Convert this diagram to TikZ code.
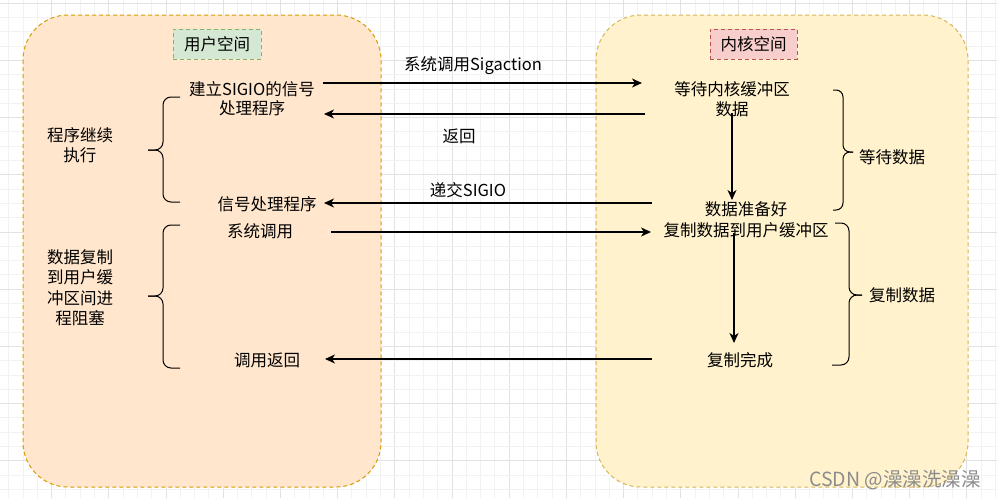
\documentclass[tikz,border=0pt]{standalone}
\usepackage{fontspec}
\setmainfont{Noto Sans CJK SC}
\usetikzlibrary{arrows.meta}
\definecolor{gridminor}{HTML}{F2F2F2}
\definecolor{gridmajor}{HTML}{E2E2E2}
\definecolor{userfill}{HTML}{FFE6CC}
\definecolor{userline}{HTML}{D79B00}
\definecolor{kernfill}{HTML}{FFF2CC}
\definecolor{kernline}{HTML}{D6B656}
\definecolor{greenfill}{HTML}{D5E8D4}
\definecolor{greenline}{HTML}{82B366}
\definecolor{redfill}{HTML}{F8CECC}
\definecolor{redline}{HTML}{B85450}
\definecolor{wmark}{HTML}{8C8C8C}
\tikzset{
  container/.style={dashed, dash pattern=on 4pt off 3pt, line width=1pt, rounded corners=45pt},
  titlebox/.style={draw, dashed, dash pattern=on 4pt off 3pt, line width=1pt, minimum width=88pt, minimum height=30pt, inner sep=0pt, font=\fontsize{16.5}{19.5}\selectfont},
  txt/.style={align=center, inner sep=0pt, font=\fontsize{16.5}{19.5}\selectfont, text=black},
  flow/.style={draw=black, line width=1.1pt, -{Stealth[length=10pt, width=9pt, inset=3pt]}},
  bracepath/.style={draw=black, line width=1pt, rounded corners=8pt},
}
\begin{document}
\begin{tikzpicture}[x=1pt, y=-1pt]
\useasboundingbox (0,0) rectangle (997,498);
\fill[white] (0,0) rectangle (997,498);
% grid
\foreach \i in {0,...,69} {
  \pgfmathtruncatemacro{\m}{mod(\i,4)}
  \ifnum\m=3 \draw[gridmajor, line width=0.8pt] ({8.6+14.3*\i},0) -- ({8.6+14.3*\i},498);
  \else \draw[gridminor, line width=0.8pt] ({8.6+14.3*\i},0) -- ({8.6+14.3*\i},498); \fi
}
\foreach \j in {0,...,34} {
  \pgfmathtruncatemacro{\m}{mod(\j,4)}
  \ifnum\m=0 \draw[gridmajor, line width=0.8pt] (0,{3.1+14.3*\j}) -- (997,{3.1+14.3*\j});
  \else \draw[gridminor, line width=0.8pt] (0,{3.1+14.3*\j}) -- (997,{3.1+14.3*\j}); \fi
}
% containers
\draw[container, draw=userline, fill=userfill] (23,15) rectangle (381,487);
\draw[container, draw=kernline, fill=kernfill] (596,15) rectangle (968,487);
% titles
\node[titlebox, draw=greenline, fill=greenfill] (ut) at (217,44) {用户空间};
\node[titlebox, draw=redline, fill=redfill, minimum width=87pt] (kt) at (753.5,44) {内核空间};
% user texts
\node[txt] (n1) at (252,98.5) {建立SIGIO的信号\\处理程序};
\node[txt] (n2) at (80,145) {程序继续\\执行};
\node[txt] (n3) at (267,204) {信号处理程序};
\node[txt] (n4) at (260,231) {系统调用};
\node[txt, font=\fontsize{16.5}{20.5}\selectfont] (n5) at (80,287.5) {数据复制\\到用户缓\\冲区间进\\程阻塞};
\node[txt] (n6) at (267,360) {调用返回};
% kernel texts
\node[txt] (k1) at (732,99) {等待内核缓冲区\\数据};
\node[txt, font=\fontsize{16.5}{21}\selectfont] (k2) at (746,219.5) {数据准备好\\复制数据到用户缓冲区};
\node[txt] (k3) at (740,360) {复制完成};
\node[txt] (w1) at (892,157) {等待数据};
\node[txt] (w2) at (902,295) {复制数据};
% arrow labels
\node[txt] (l1) at (473,66) {系统调用Sigaction};
\node[txt] (l2) at (459,136) {返回};
\node[txt] (l3) at (468,190) {递交SIGIO};
% arrow endpoints
\coordinate (a1s) at (323,83);  \coordinate (a1e) at (642,83);
\coordinate (a2s) at (645,114); \coordinate (a2e) at (324,114);
\coordinate (a3s) at (652,203); \coordinate (a3e) at (324,203);
\coordinate (a4s) at (331,232); \coordinate (a4e) at (651,232);
\coordinate (a5s) at (652,359); \coordinate (a5e) at (325,359);
\coordinate (v1s) at (732,113); \coordinate (v1e) at (732,200);
\coordinate (v2s) at (734,233); \coordinate (v2e) at (734,343);
\draw[flow] (a1s) -- (a1e);
\draw[flow] (a2s) -- (a2e);
\draw[flow] (a3s) -- (a3e);
\draw[flow] (a4s) -- (a4e);
\draw[flow] (a5s) -- (a5e);
\draw[flow] (v1s) -- (v1e);
\draw[flow] (v2s) -- (v2e);
% braces
\draw[bracepath] (180,97) -- (163,97) -- (163,150) -- (148,150);
\draw[bracepath] (148,150) -- (163,150) -- (163,202) -- (180,202);
\draw[bracepath] (180,225) -- (163,225) -- (163,296) -- (148,296);
\draw[bracepath] (148,296) -- (163,296) -- (163,368) -- (180,368);
\draw[bracepath, rounded corners=7pt] (833,90) -- (843,90) -- (843,152) -- (853,152);
\draw[bracepath, rounded corners=7pt] (853,152) -- (843,152) -- (843,210) -- (833,210);
\draw[bracepath] (835,223) -- (849,223) -- (849,295) -- (862,295);
\draw[bracepath] (862,295) -- (849,295) -- (849,365) -- (832,365);
% watermark
\node[txt, text=wmark, font=\fontsize{19.5}{22}\selectfont] (wm) at (895,480) {CSDN @澡澡洗澡澡};
\end{tikzpicture}
\end{document}
